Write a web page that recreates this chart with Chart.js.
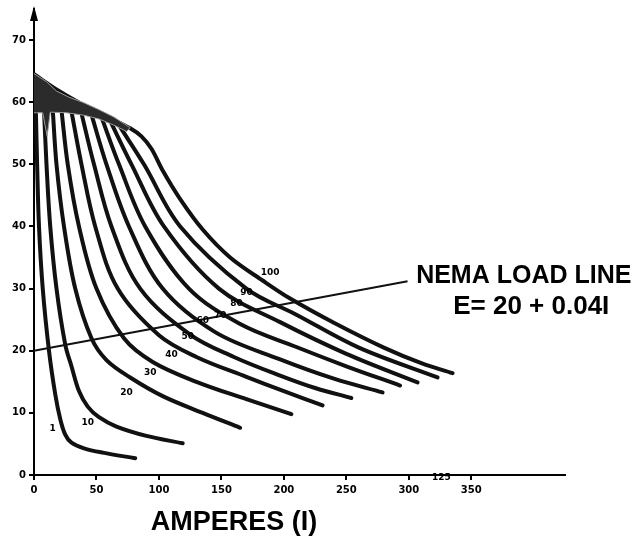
<!DOCTYPE html>
<html>
<head>
<meta charset="utf-8">
<script src="https://cdn.jsdelivr.net/npm/chart.js@4.4.0/dist/chart.umd.min.js"></script>
<style>
html, body { margin: 0; padding: 0; background: #fff; }
#wrap { width: 641px; height: 537px; }
</style>
</head>
<body>
<div id="wrap"><canvas id="myChart" width="641" height="537"></canvas></div>
<script>
// field curves: amperes (I) vs volts (E), one per field setting
const curveNames = ['1', '10', '20', '30', '40', '50', '60', '70', '80', '90', '100'];
const curve1   = [[1.5,58.5],[2.5,50],[4,40],[7,30],[12,20],[17,13],[21,9],[25,6.5],[30,5.2],[40,4.3],[55,3.6],[81,2.7]];
const curve10  = [[8,58.8],[10,50],[13,40],[18,30],[25,21],[30,17.5],[36,13.5],[43,11],[52,9.3],[66,7.8],[90,6.3],[119,5.1]];
const curve20  = [[15,58.8],[18,50],[24,40],[33,30],[46,22],[58,18.5],[77,15.7],[103,12.7],[135,10],[165,7.6]];
const curve30  = [[22,58.7],[27,50],[36,40],[50,30],[72,22],[95,18.2],[130,15],[170,12.2],[206,9.8]];
const curve40  = [[30,58.5],[38,50],[49,40],[67,30],[100,22.5],[130,19],[170,15.8],[200,13.5],[231,11.2]];
const curve50  = [[38,58.2],[48,50],[62,40],[85,30],[125,22.6],[160,19],[197,16],[225,14],[254,12.4]];
const curve60  = [[46,58],[58,50],[76,40],[103,30],[145,23],[197,18.6],[240,15.5],[279,13.3]];
const curve70  = [[54,57.6],[68,50],[89,40],[124,30],[165,24.3],[210,20.6],[250,17.5],[293,14.4]];
const curve80  = [[61,57],[78,50],[104,40],[148,30],[197,24.6],[250,19.5],[307,14.9]];
const curve90  = [[68,56.3],[88,50],[117,40],[170,30],[210,25.8],[260,20.5],[323,15.7]];
const curve100 = [[0,64.5],[20,61.8],[40,59.5],[60,57.5],[77,55.8],[86,54.5],[94,52.5],[103,49],[117,44.4],[135,39.5],[157,35],[183,31.3],[205,28.4],[240,24.5],[280,20.5],[310,18],[335,16.4]];

// NEMA load line E = 20 + 0.04 I
const nemaLine = [[0,20],[299,31.2]];

// dark cap where the curves start
const darkCap = [[0,64.6],[10,63.3],[18,61.8],[28,60.8],[40,59.9],[52,58.8],[64,57.6],[77,55.9],[74,55.3],[64,56.3],[52,57.3],[40,57.9],[26,58.3],[13,58.4],[10.5,54.5],[7,58.3],[2,58.3],[0,58.3]];

const xTicks = [0, 50, 100, 150, 200, 250, 300, 350];
const yTicks = [0, 10, 20, 30, 40, 50, 60, 70];

// small labels next to the curves: text, I, E
const tagText = ['1', '10', '20', '30', '40', '50', '60', '70', '80', '90', '100', '125'];
const tagI    = [15, 43, 74, 93, 110, 123, 135, 149, 162, 170, 189, 326];
const tagE    = [7.5, 8.5, 13.3, 16.4, 19.4, 22.3, 24.9, 25.7, 27.6, 29.4, 32.6, -0.4];

const toPts = arr => arr.map(p => ({ x: p[0], y: p[1] }));
const curves = [curve1, curve10, curve20, curve30, curve40, curve50, curve60, curve70, curve80, curve90, curve100];

const datasets = [];
datasets.push({
  label: 'cap',
  data: toPts(darkCap),
  showLine: true,
  tension: 0,
  fill: 'shape',
  backgroundColor: '#2b2b2b',
  borderColor: '#9a9a9a',
  borderWidth: 1,
  pointRadius: 0
});
curves.forEach((c, i) => {
  datasets.push({
    label: curveNames[i],
    data: toPts(c),
    showLine: true,
    tension: 0.35,
    borderColor: '#111',
    borderWidth: 4,
    borderCapStyle: 'round',
    borderJoinStyle: 'round',
    pointRadius: 0,
    fill: false
  });
});
datasets.push({
  label: 'NEMA',
  data: toPts(nemaLine),
  showLine: true,
  borderColor: '#111',
  borderWidth: 2,
  pointRadius: 0,
  fill: false,
  clip: false
});

const textPlugin = {
  id: 'texts',
  afterDatasetsDraw(chart) {
    const ctx = chart.ctx;
    const x = chart.scales.x, y = chart.scales.y;
    ctx.save();
    ctx.fillStyle = '#000';
    // arrow head on y axis
    ctx.beginPath();
    ctx.moveTo(x.left, y.top - 3);
    ctx.lineTo(x.left - 4, y.top + 12);
    ctx.lineTo(x.left + 4, y.top + 12);
    ctx.closePath();
    ctx.fill();

    // curve tags
    ctx.font = 'bold 9px "DejaVu Sans"';
    ctx.textAlign = 'center';
    ctx.textBaseline = 'middle';
    tagText.forEach((t, i) => {
      ctx.fillText(t, x.getPixelForValue(tagI[i]), y.getPixelForValue(tagE[i]));
    });

    // NEMA text
    ctx.font = 'bold 25px "Liberation Sans"';
    ctx.textBaseline = 'alphabetic';
    ctx.fillText('NEMA LOAD LINE', x.getPixelForValue(392), y.getPixelForValue(30.9));
    ctx.font = 'bold 26px "Liberation Sans"';
    ctx.fillText('E= 20 + 0.04I', x.getPixelForValue(398), y.getPixelForValue(25.9));

    // x axis title
    ctx.font = 'bold 27px "Liberation Sans"';
    ctx.fillText('AMPERES (I)', x.getPixelForValue(160), chart.height - 7);
    ctx.restore();
  }
};

const tickFont = { family: 'DejaVu Sans', weight: 'bold', size: 10 };

new Chart(document.getElementById('myChart'), {
  type: 'scatter',
  data: { datasets: datasets },
  options: {
    responsive: false,
    animation: false,
    layout: { padding: { top: 7, right: 76, left: 0, bottom: 0 } },
    plugins: { legend: { display: false }, tooltip: { enabled: false } },
    scales: {
      x: {
        type: 'linear',
        min: 0,
        max: 425,
        afterFit: s => { s.height = 62; },
        afterBuildTicks: s => { s.ticks = xTicks.map(v => ({ value: v })); },
        grid: { drawOnChartArea: false, drawTicks: true, tickLength: 5, color: '#000', lineWidth: 2 },
        border: { display: true, color: '#000', width: 2 },
        ticks: { font: tickFont, color: '#000', padding: 4, maxRotation: 0, autoSkip: false }
      },
      y: {
        type: 'linear',
        min: 0,
        max: 75,
        afterFit: s => { s.width = 34; },
        afterBuildTicks: s => { s.ticks = yTicks.map(v => ({ value: v })); },
        grid: { drawOnChartArea: false, drawTicks: true, tickLength: 5, color: '#000', lineWidth: 2 },
        border: { display: true, color: '#000', width: 2 },
        ticks: { font: tickFont, color: '#000', padding: 3, autoSkip: false }
      }
    }
  },
  plugins: [textPlugin]
});
</script>
</body>
</html>
